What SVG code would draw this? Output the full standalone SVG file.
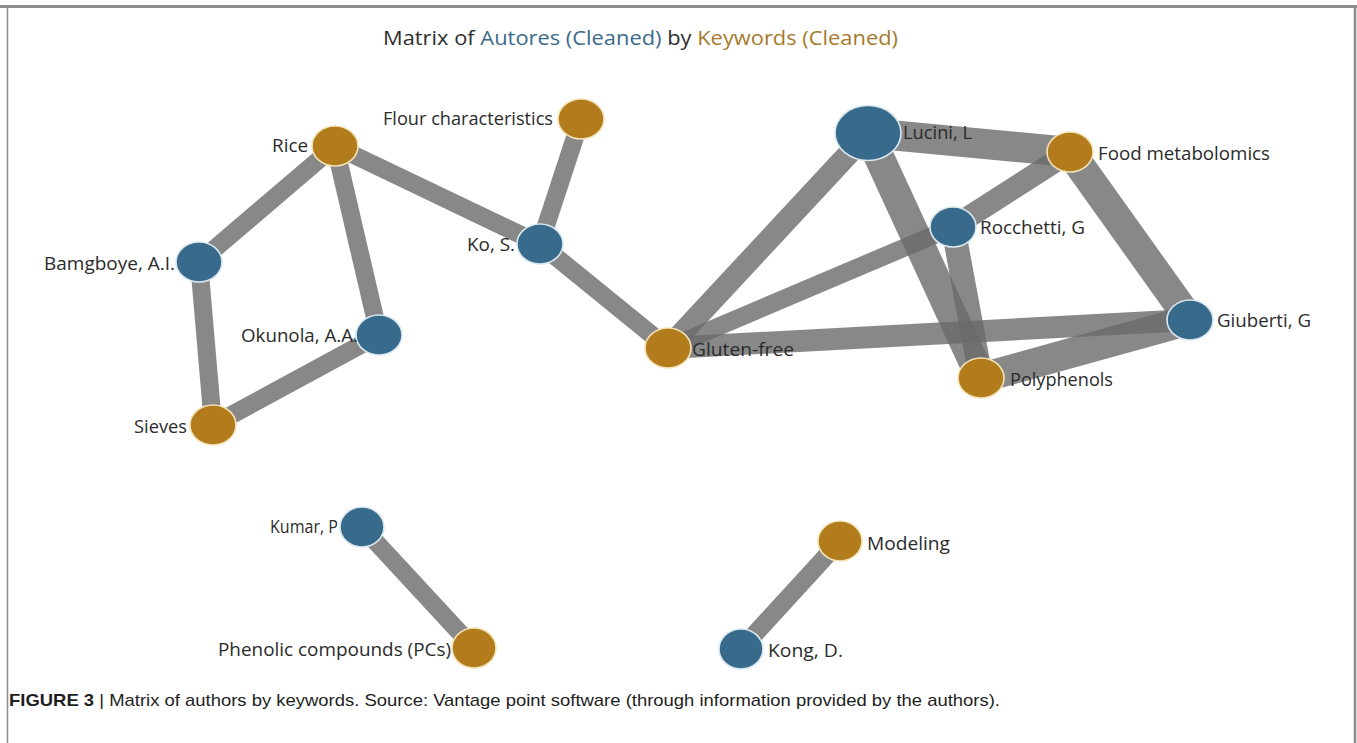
<svg xmlns="http://www.w3.org/2000/svg" width="1357" height="743" viewBox="0 0 1357 743">
<style>
.frame{stroke:#8c8c8c;fill:none}
.e{stroke:#6a6a6a;stroke-opacity:0.8;fill:none;stroke-linecap:butt}
.au{fill:#376a8b;stroke:#dbe8f0;stroke-width:1.6}
.kw{fill:#b27c1c;stroke:#f3e3b8;stroke-width:1.6}
.lb{font-family:"Open Sans","Noto Sans",sans-serif;font-size:18px;fill:#2b2b2b}
.title{font-family:"Open Sans","Noto Sans",sans-serif;font-size:20px;fill:#2e2e2e}
.cap{font-family:"Liberation Sans",Arial,sans-serif;font-size:17px;fill:#1e1e1e}
</style>
<rect width="1357" height="743" fill="#ffffff"/>
<g id="frame">
<line class="frame" x1="0" y1="6.5" x2="1357" y2="6.5" stroke-width="3"/>
<line class="frame" x1="7.5" y1="6" x2="7.5" y2="743" stroke-width="1.5"/>
<line class="frame" x1="1355" y1="6" x2="1355" y2="743" stroke-width="2.5"/>
</g>
<text id="title" class="title" x="383" y="45" textLength="515" lengthAdjust="spacingAndGlyphs">Matrix of <tspan fill="#3b6a8a">Autores (Cleaned)</tspan> by <tspan fill="#a67a2c">Keywords (Cleaned)</tspan></text>
<g id="connectors">
<line class="e" x1="335" y1="146" x2="199" y2="262" stroke-width="18"/>
<line class="e" x1="335" y1="146" x2="379" y2="335" stroke-width="18"/>
<line class="e" x1="335" y1="146" x2="540" y2="244" stroke-width="18"/>
<line class="e" x1="199" y1="262" x2="213" y2="425" stroke-width="18"/>
<line class="e" x1="379" y1="335" x2="213" y2="425" stroke-width="18"/>
<line class="e" x1="581" y1="119" x2="540" y2="244" stroke-width="18"/>
<line class="e" x1="540" y1="244" x2="668" y2="348" stroke-width="18"/>
<line class="e" x1="668" y1="348" x2="868" y2="133" stroke-width="22"/>
<line class="e" x1="668" y1="348" x2="953" y2="227" stroke-width="18"/>
<line class="e" x1="668" y1="348" x2="1190" y2="320" stroke-width="22"/>
<line class="e" x1="868" y1="133" x2="1070" y2="152" stroke-width="30"/>
<line class="e" x1="868" y1="133" x2="981" y2="378" stroke-width="30"/>
<line class="e" x1="953" y1="227" x2="1070" y2="152" stroke-width="22"/>
<line class="e" x1="953" y1="227" x2="981" y2="378" stroke-width="24"/>
<line class="e" x1="1070" y1="152" x2="1190" y2="320" stroke-width="30"/>
<line class="e" x1="1190" y1="320" x2="981" y2="378" stroke-width="30"/>
<line class="e" x1="362" y1="527" x2="474" y2="648" stroke-width="18"/>
<line class="e" x1="741" y1="649" x2="840" y2="541" stroke-width="18"/>
</g>
<g id="n-rice"><ellipse class="kw" cx="335" cy="146" rx="23" ry="20"/><text class="lb" x="308" y="152" text-anchor="end" textLength="36" lengthAdjust="spacingAndGlyphs">Rice</text></g>
<g id="n-bamgboye"><ellipse class="au" cx="199" cy="262" rx="23" ry="20"/><text class="lb" x="175" y="270" text-anchor="end" textLength="131" lengthAdjust="spacingAndGlyphs">Bamgboye, A.I.</text></g>
<g id="n-okunola"><ellipse class="au" cx="379" cy="335" rx="23" ry="20"/><text class="lb" x="358" y="342" text-anchor="end" textLength="117" lengthAdjust="spacingAndGlyphs">Okunola, A.A.</text></g>
<g id="n-sieves"><ellipse class="kw" cx="213" cy="425" rx="23" ry="20"/><text class="lb" x="187" y="433" text-anchor="end" textLength="53" lengthAdjust="spacingAndGlyphs">Sieves</text></g>
<g id="n-flour"><ellipse class="kw" cx="581" cy="119" rx="23" ry="20"/><text class="lb" x="553" y="125" text-anchor="end" textLength="170" lengthAdjust="spacingAndGlyphs">Flour characteristics</text></g>
<g id="n-ko"><ellipse class="au" cx="540" cy="244" rx="23" ry="20"/><text class="lb" x="515" y="251" text-anchor="end" textLength="48" lengthAdjust="spacingAndGlyphs">Ko, S.</text></g>
<g id="n-gluten"><ellipse class="kw" cx="668" cy="348" rx="23" ry="20"/><text class="lb" x="692" y="356" textLength="102" lengthAdjust="spacingAndGlyphs">Gluten-free</text></g>
<g id="n-lucini"><ellipse class="au" cx="868" cy="133" rx="33" ry="27.5"/><text class="lb" x="903" y="139" textLength="69" lengthAdjust="spacingAndGlyphs">Lucini, L</text></g>
<g id="n-food"><ellipse class="kw" cx="1070" cy="152" rx="23" ry="20"/><text class="lb" x="1098" y="160" textLength="172" lengthAdjust="spacingAndGlyphs">Food metabolomics</text></g>
<g id="n-rocchetti"><ellipse class="au" cx="953" cy="227" rx="23" ry="20"/><text class="lb" x="980" y="234" textLength="105" lengthAdjust="spacingAndGlyphs">Rocchetti, G</text></g>
<g id="n-giuberti"><ellipse class="au" cx="1190" cy="320" rx="23" ry="20"/><text class="lb" x="1217" y="327" textLength="94" lengthAdjust="spacingAndGlyphs">Giuberti, G</text></g>
<g id="n-polyphenols"><ellipse class="kw" cx="981" cy="378" rx="23" ry="20"/><text class="lb" x="1010" y="386" textLength="103" lengthAdjust="spacingAndGlyphs">Polyphenols</text></g>
<g id="n-kumar"><ellipse class="au" cx="362" cy="527" rx="22" ry="20"/><text class="lb" x="338" y="533" text-anchor="end" textLength="68" lengthAdjust="spacingAndGlyphs">Kumar, P</text></g>
<g id="n-phenolic"><ellipse class="kw" cx="474" cy="648" rx="22" ry="20"/><text class="lb" x="451" y="656" text-anchor="end" textLength="233" lengthAdjust="spacingAndGlyphs">Phenolic compounds (PCs)</text></g>
<g id="n-modeling"><ellipse class="kw" cx="840" cy="541" rx="22" ry="20"/><text class="lb" x="867" y="550" textLength="83" lengthAdjust="spacingAndGlyphs">Modeling</text></g>
<g id="n-kong"><ellipse class="au" cx="741" cy="649" rx="22" ry="20"/><text class="lb" x="768" y="657" textLength="75" lengthAdjust="spacingAndGlyphs">Kong, D.</text></g>
<text id="caption" class="cap" x="9" y="706" textLength="991" lengthAdjust="spacingAndGlyphs"><tspan font-weight="bold">FIGURE 3</tspan> | Matrix of authors by keywords. Source: Vantage point software (through information provided by the authors).</text>
</svg>
